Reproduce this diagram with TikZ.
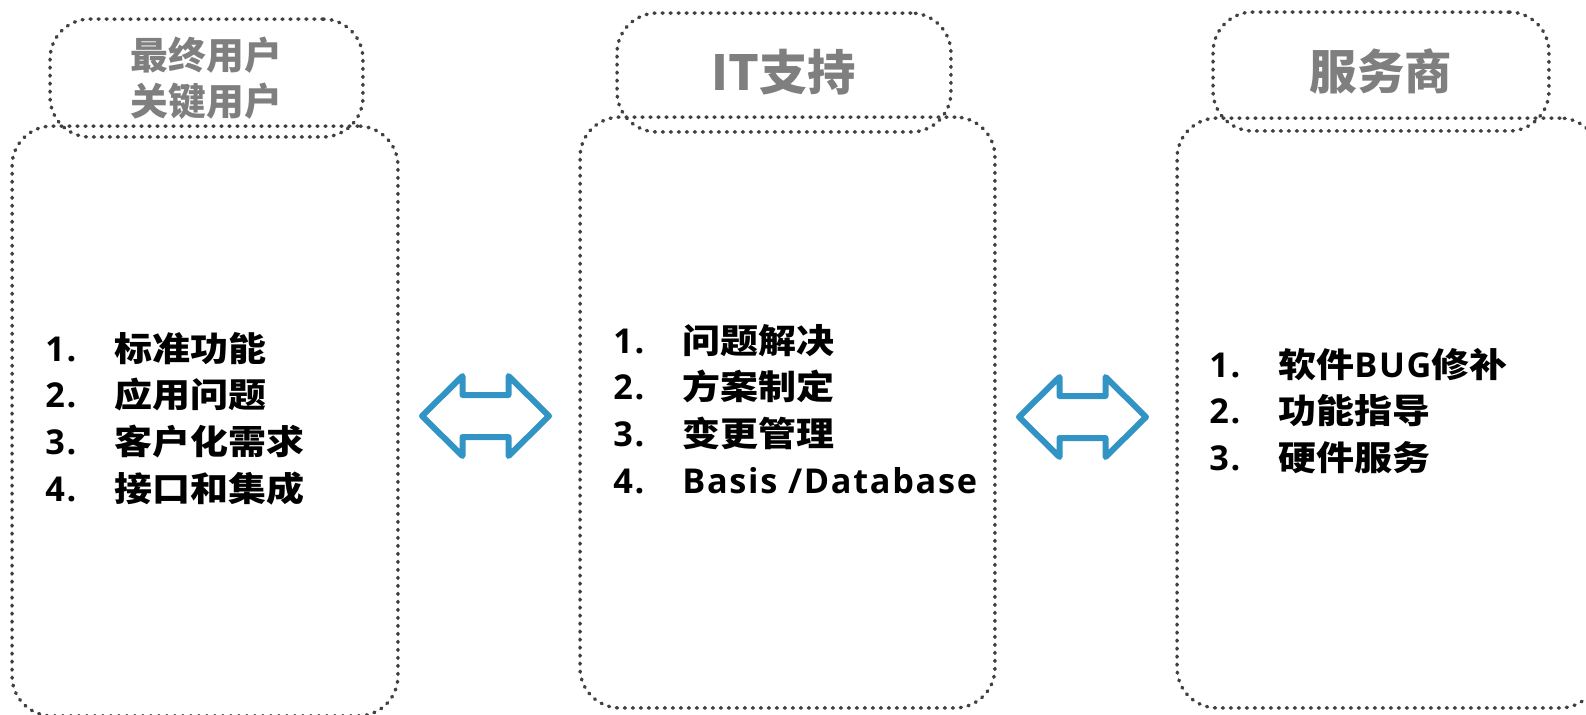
\documentclass[tikz,border=0pt]{standalone}
\usepackage{fontspec}
\usepackage{tikz}
\newfontfamily\cjkfont{Noto Sans CJK SC}[FakeStretch=1.12]
\newfontfamily\headfont{Noto Sans CJK SC}
\newfontfamily\latfont{Open Sans}[LetterSpace=5]
\definecolor{dotgray}{HTML}{404040}
\definecolor{headgray}{HTML}{7F7F7F}
\definecolor{arrowblue}{HTML}{3194C4}
\newcommand{\lat}[1]{{\latfont\fontsize{19.5}{26.64}\selectfont #1}}
\newcommand{\listrow}[2]{\makebox[1.38cm][l]{\lat{#1}}#2\\}

\begin{document}
\begin{tikzpicture}[x=0.02cm, y=-0.02cm]
		\tikzstyle{bigbox} = [draw=dotgray, rectangle, rounded corners=0.8cm, line width=0.07cm, dash pattern=on 0.02cm off 0.14cm, line cap=round, inner sep=0pt]
		\tikzstyle{headbox} = [bigbox, text=headgray, align=center, font=\headfont\bfseries]
		\tikzstyle{dblarrow} = [draw=arrowblue, line width=0.12cm, line join=round]
		\tikzstyle{listtext} = [anchor=base west, inner sep=0pt, font=\cjkfont\bfseries\fontsize{19.3}{26.64}\selectfont]
		\useasboundingbox (0,0) rectangle (1586,714);

		\node [bigbox, minimum width=7.72cm, minimum height=11.8cm] (userbox) at (205,421) {};
		\node [bigbox, minimum width=8.3cm, minimum height=11.82cm] (itbox) at (787.5,412.5) {};
		\node [bigbox, minimum width=8.46cm, minimum height=11.8cm] (vendorbox) at (1388.5,413) {};

		\node [headbox, minimum width=6.26cm, minimum height=2.36cm, font=\headfont\bfseries\fontsize{21.5}{26}\selectfont] (userhead) at (206.5,78) {最终用户\\关键用户};
		\node [headbox, minimum width=6.68cm, minimum height=2.38cm, font=\headfont\bfseries\fontsize{27.5}{33}\selectfont] (ithead) at (784,72.5) {IT支持};
		\node [headbox, minimum width=6.72cm, minimum height=2.38cm, font=\headfont\bfseries\fontsize{27}{33}\selectfont] (vendorhead) at (1381,71.5) {服务商};

		\node [listtext] (userlist) at (45,361) {\begin{tabular}[t]{@{}l@{}}
			\listrow{1.}{标准功能}
			\listrow{2.}{应用问题}
			\listrow{3.}{客户化需求}
			\listrow{4.}{接口和集成}
		\end{tabular}};
		\node [listtext] (itlist) at (613,353) {\begin{tabular}[t]{@{}l@{}}
			\listrow{1.}{问题解决}
			\listrow{2.}{方案制定}
			\listrow{3.}{变更管理}
			\listrow{4.}{\lat{Basis /Database}}
		\end{tabular}};
		\node [listtext] (vendorlist) at (1209,377) {\begin{tabular}[t]{@{}l@{}}
			\listrow{1.}{软件\lat{BUG}修补}
			\listrow{2.}{功能指导}
			\listrow{3.}{硬件服务}
		\end{tabular}};

		% double arrows between the columns
		\coordinate (userit) at (485.5,416);
		\coordinate (itvendor) at (1082.5,417);
		\foreach \c in {userit,itvendor}
			\draw[dblarrow, shift={(\c)}] (-63.5,0) -- (-23,-40) -- (-23,-21) -- (23,-21) -- (23,-40) -- (63.5,0) -- (23,40) -- (23,21) -- (-23,21) -- (-23,40) -- cycle;
	\end{tikzpicture}
\end{document}
